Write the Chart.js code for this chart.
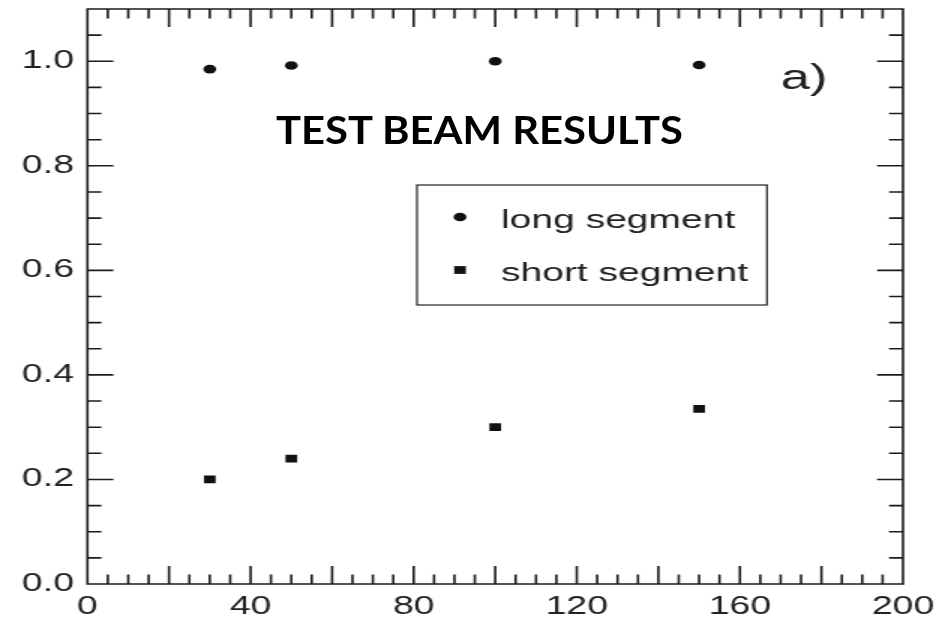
<!DOCTYPE html>
<html><head><meta charset="utf-8">
<script src="https://cdn.jsdelivr.net/npm/chart.js@4.4.1/dist/chart.umd.min.js"></script>
<style>
html,body{margin:0;padding:0;background:#fff;overflow:hidden}
#wrap{position:relative;width:939px;height:618px}
#c{position:absolute;left:0;top:0;width:939px;height:618px}
#title{position:absolute;left:276px;top:110px;font-family:Lato,"Open Sans",sans-serif;font-weight:700;font-size:39px;line-height:1;color:#000;white-space:nowrap;transform-origin:0 0}
</style></head><body>
<div id="wrap"><canvas id="c" width="626" height="618" style="width:939px;height:618px"></canvas><div id="title"></div></div>
<script>
// ---- data ----
const beamEnergy   = [30, 50, 100, 150];
const longSegment  = [0.985, 0.992, 1.000, 0.993];
const shortSegment = [0.200, 0.240, 0.300, 0.335];
const seriesNames  = ['long segment', 'short segment'];
const xTickLabels  = [0, 40, 80, 120, 160, 200];
const yTickLabels  = [0.0, 0.2, 0.4, 0.6, 0.8, 1.0];
const xMajorTicks  = [0, 20, 40, 60, 80, 100, 120, 140, 160, 180, 200];
const xMinorTicks  = [5, 10, 15, 25, 30, 35, 45, 50, 55, 65, 70, 75, 85, 90, 95, 105, 110, 115, 125, 130, 135, 145, 150, 155, 165, 170, 175, 185, 190, 195];
const yMajorTicks  = [0.0, 0.2, 0.4, 0.6, 0.8, 1.0];
const yMinorTicks  = [0.05, 0.1, 0.15, 0.25, 0.3, 0.35, 0.45, 0.5, 0.55, 0.65, 0.7, 0.75, 0.85, 0.9, 0.95, 1.05];
const panelLabel   = 'a)';
const chartTitle   = 'TEST BEAM RESULTS';

const INK = '#1c1c1c';
Chart.defaults.font.family = '"Liberation Sans", Arial, sans-serif';

const frameTicks = {
  id: 'frameTicks',
  afterDraw(chart) {
    const {ctx, chartArea: a, scales: {x, y}} = chart;
    ctx.save();
    ctx.strokeStyle = INK;
    ctx.lineWidth = 1.6;
    ctx.lineCap = 'butt';
    ctx.beginPath();
    ctx.rect(a.left, a.top, a.right - a.left, a.bottom - a.top);
    const xt = (vals, len) => vals.forEach(v => {
      const px = x.getPixelForValue(v);
      ctx.moveTo(px, a.bottom); ctx.lineTo(px, a.bottom - len);
      ctx.moveTo(px, a.top); ctx.lineTo(px, a.top + len);
    });
    const yt = (vals, len) => vals.forEach(v => {
      const py = y.getPixelForValue(v);
      ctx.moveTo(a.left, py); ctx.lineTo(a.left + len, py);
      ctx.moveTo(a.right, py); ctx.lineTo(a.right - len, py);
    });
    xt(xMajorTicks, 18); xt(xMinorTicks, 9.5);
    yt(yMajorTicks, 17.3); yt(yMinorTicks, 9.3);
    ctx.stroke();

    // panel label
    ctx.fillStyle = '#222';
    ctx.font = '35px "Liberation Sans", Arial, sans-serif';
    ctx.textBaseline = 'alphabetic';
    ctx.textAlign = 'left';
    ctx.fillText(panelLabel, 520.5, 89);
    ctx.restore();
  }
};

const boxLegend = {
  id: 'boxLegend',
  afterDraw(chart) {
    const {ctx} = chart;
    ctx.save();
    ctx.strokeStyle = '#222';
    ctx.lineWidth = 1.2;
    ctx.strokeRect(278, 185, 233.3, 120);
    const rows = [217, 270];
    const bases = [228, 281];
    chart.data.datasets.forEach((ds, i) => {
      ctx.fillStyle = ds.backgroundColor;
      ctx.beginPath();
      if (ds.pointStyle === 'rect') {
        const s = Math.SQRT1_2 * ds.pointRadius;
        ctx.rect(306.7 - s, rows[i] - s, 2 * s, 2 * s);
      } else {
        ctx.arc(306.7, rows[i], ds.pointRadius, 0, Math.PI * 2);
      }
      ctx.fill();
      ctx.fillStyle = '#222';
      ctx.font = '26px "Liberation Sans", Arial, sans-serif';
      ctx.textBaseline = 'alphabetic';
      ctx.fillText(ds.label, 334, bases[i]);
    });
    ctx.restore();
  }
};

const noPad = s => { s.paddingTop = 0; s.paddingBottom = 0; s.paddingLeft = 0; s.paddingRight = 0; };

new Chart(document.getElementById('c'), {
  type: 'scatter',
  data: {
    datasets: [
      {label: seriesNames[0], data: beamEnergy.map((e, i) => ({x: e, y: longSegment[i]})),
       pointStyle: 'circle', pointRadius: 4.3, backgroundColor: '#111', borderColor: '#111', borderWidth: 0},
      {label: seriesNames[1], data: beamEnergy.map((e, i) => ({x: e, y: shortSegment[i]})),
       pointStyle: 'rect', pointRadius: 5.5, backgroundColor: '#111', borderColor: '#111', borderWidth: 0}
    ]
  },
  options: {
    responsive: false, animation: false, devicePixelRatio: 1, events: [],
    layout: {padding: {top: 9, right: 24, left: 0, bottom: 0}},
    plugins: {legend: {display: false}, tooltip: {enabled: false}},
    scales: {
      x: {
        type: 'linear', min: 0, max: 200,
        afterBuildTicks: s => { s.ticks = xTickLabels.map(v => ({value: v})); },
        afterFit: s => { s.height = 34; noPad(s); },
        grid: {display: false, drawTicks: false, tickLength: 0}, border: {display: false},
        ticks: {font: {size: 25}, color: '#222', padding: 8, maxRotation: 0, autoSkip: false,
                callback: v => String(v)}
      },
      y: {
        type: 'linear', min: 0, max: 1.1,
        afterBuildTicks: s => { s.ticks = yTickLabels.map(v => ({value: v})); },
        afterFit: s => { s.width = 58.3; noPad(s); },
        grid: {display: false, drawTicks: false, tickLength: 0}, border: {display: false},
        ticks: {font: {size: 25}, color: '#222', padding: 9, autoSkip: false,
                callback: v => Number(v).toFixed(1)}
      }
    }
  },
  plugins: [frameTicks, boxLegend]
});

const t = document.getElementById('title');
t.textContent = chartTitle;
const w = t.getBoundingClientRect().width;
t.style.transform = 'scaleX(' + (407 / w) + ')';
</script>
</body></html>
